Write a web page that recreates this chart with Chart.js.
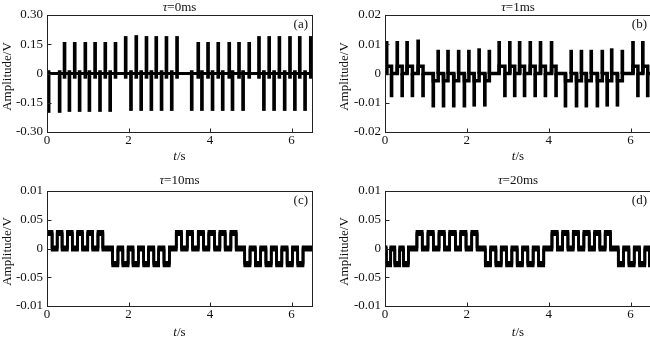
<!DOCTYPE html>
<html>
<head>
<meta charset="utf-8">
<title>Amplitude vs time</title>
<script src="https://cdn.jsdelivr.net/npm/chart.js@4.4.0/dist/chart.umd.min.js"></script>
<style>
    html, body { margin: 0; padding: 0; background: #fff; }
    #wrap { position: relative; width: 650px; height: 340px; overflow: hidden; }
    canvas { position: absolute; }
</style>
</head>
<body>
<div id="wrap">
    <canvas id="chartA" width="325" height="170" style="left:0;top:0"></canvas>
    <canvas id="chartB" width="330" height="170" style="left:325px;top:0"></canvas>
    <canvas id="chartC" width="325" height="170" style="left:0;top:170px"></canvas>
    <canvas id="chartD" width="330" height="170" style="left:325px;top:170px"></canvas>
</div>
<script>
// ---- shared axes ----
const xTicks = [0, 2, 4, 6];

const aYTicks = [-0.3, -0.15, 0, 0.15, 0.3];
const aYLabels = ['-0.30', '-0.15', '0', '0.15', '0.30'];
const bYTicks = [-0.02, -0.01, 0, 0.01, 0.02];
const bYLabels = ['-0.02', '-0.01', '0', '0.01', '0.02'];
const cdYTicks = [-0.1, -0.05, 0, 0.05, 0.1];
const cdYLabels = ['-0.01', '-0.05', '0', '0.05', '0.01'];

// ---- (a) tau = 0ms : spikes on a flat baseline ----
const aBaseT = [0, 6.5];
const aBaseV = [0, 0];
const aUpT = [0.43, 0.68, 0.94, 1.18, 1.43, 1.68, 1.93, 2.19, 2.44, 2.68, 2.93, 3.19,
              3.71, 3.95, 4.20, 4.47, 4.71, 4.96, 5.20, 5.45, 5.70, 5.96, 6.20, 6.47];
const aUpV = [0.16, 0.16, 0.16, 0.16, 0.16, 0.16, 0.19, 0.195, 0.19, 0.19, 0.19, 0.19,
              0.16, 0.16, 0.16, 0.16, 0.16, 0.16, 0.19, 0.19, 0.19, 0.19, 0.19, 0.19];
const aUpTail = -0.025;
const aDownT = [0.04, 0.31, 0.55, 0.80, 1.04, 1.30, 1.55, 2.06, 2.31, 2.56, 2.81, 3.06,
                3.55, 3.80, 4.06, 4.31, 4.55, 4.81, 5.32, 5.57, 5.83, 6.08, 6.33];
const aDownV = [-0.2, -0.2, -0.195, -0.195, -0.195, -0.195, -0.195, -0.19, -0.19, -0.19, -0.19, -0.19,
                -0.19, -0.19, -0.19, -0.19, -0.19, -0.19, -0.19, -0.19, -0.19, -0.19, -0.19];
const aDownTail = 0.015;

// ---- (b) tau = 1ms : stepped baseline with spikes ----
const bUpT = [0.04, 0.30, 0.54, 0.81, 1.30, 1.54, 1.80, 2.05, 2.30, 2.55, 2.79, 3.05,
              3.29, 3.55, 3.80, 4.07, 4.55, 4.80, 5.04, 5.31, 5.54, 5.80, 6.06, 6.30];
const bUpV = [0.011, 0.011, 0.011, 0.0115, 0.008, 0.008, 0.008, 0.008, 0.0085, 0.008, 0.011, 0.011,
              0.011, 0.011, 0.011, 0.011, 0.008, 0.008, 0.008, 0.008, 0.0085, 0.008, 0.011, 0.011];
const bDownT = [0.16, 0.42, 0.67, 0.93, 1.18, 1.43, 1.68, 1.94, 2.18, 2.44, 2.93, 3.17,
                3.41, 3.67, 3.92, 4.18, 4.41, 4.68, 4.92, 5.19, 5.43, 5.68, 6.18, 6.42];
const bDownV = [-0.008, -0.008, -0.008, -0.008, -0.0115, -0.0115, -0.0115, -0.0115, -0.0112, -0.0112, -0.008, -0.008,
                -0.008, -0.008, -0.008, -0.008, -0.0115, -0.0115, -0.0115, -0.0115, -0.0112, -0.0112, -0.008, -0.008];
const bStepT = [0, 0.04, 0.16, 0.30, 0.42, 0.54, 0.67, 0.81, 0.93, 1.18, 1.30, 1.43, 1.54, 1.68, 1.80,
                1.94, 2.05, 2.18, 2.30, 2.44, 2.55, 2.79, 2.93, 3.05, 3.17, 3.29, 3.41, 3.55, 3.67,
                3.80, 3.92, 4.07, 4.18, 4.41, 4.55, 4.68, 4.80, 4.92, 5.04, 5.19, 5.31, 5.43, 5.54,
                5.68, 5.80, 6.06, 6.18, 6.30, 6.42, 6.5];
const bStepV = [0, 0.0025, 0, 0.0025, 0, 0.0025, 0, 0.0025, 0, -0.0025, 0, -0.0025, 0, -0.0025, 0,
                -0.0025, 0, -0.0025, 0, -0.0025, 0, 0.0025, 0, 0.0025, 0, 0.0025, 0, 0.0025, 0,
                0.0025, 0, 0.0025, 0, -0.0025, 0, -0.0025, 0, -0.0025, 0, -0.0025, 0, -0.0025, 0,
                -0.0025, 0, 0.0025, 0, 0.0025, 0, 0];

// ---- (c) tau = 10ms : square pulse groups ----
const cStepT = [0, 0.125, 0.25, 0.37, 0.50, 0.62, 0.75, 0.87, 1.00, 1.12, 1.25, 1.37,
                1.61, 1.74, 1.86, 1.99, 2.11, 2.24, 2.37, 2.49, 2.62, 2.74, 2.87, 3.00,
                3.17, 3.30, 3.44, 3.57, 3.71, 3.84, 3.97, 4.11, 4.24, 4.37, 4.51, 4.64,
                4.85, 4.98, 5.11, 5.24, 5.37, 5.50, 5.63, 5.76, 5.89, 6.02, 6.15, 6.28, 6.5];
const cStepV = [0.027, 0, 0.027, 0, 0.027, 0, 0.027, 0, 0.027, 0, 0.027, 0,
                -0.027, 0, -0.027, 0, -0.027, 0, -0.027, 0, -0.027, 0, -0.027, 0,
                0.027, 0, 0.027, 0, 0.027, 0, 0.027, 0, 0.027, 0, 0.027, 0,
                -0.027, 0, -0.027, 0, -0.027, 0, -0.027, 0, -0.027, 0, -0.027, 0, 0];

// ---- (d) tau = 20ms : same groups, shifted ----
const dStepT = [0, 0.03, 0.14, 0.24, 0.36, 0.45, 0.57,
                0.78, 0.91, 1.05, 1.18, 1.32, 1.45, 1.58, 1.72, 1.85, 1.98, 2.12, 2.25,
                2.45, 2.58, 2.71, 2.84, 2.97, 3.10, 3.23, 3.36, 3.49, 3.62, 3.75, 3.88,
                4.08, 4.21, 4.34, 4.47, 4.60, 4.73, 4.86, 4.99, 5.12, 5.25, 5.38, 5.51,
                5.70, 5.83, 5.96, 6.09, 6.22, 6.35, 6.46, 6.5];
const dStepV = [0, -0.027, 0, -0.027, 0, -0.027, 0,
                0.027, 0, 0.027, 0, 0.027, 0, 0.027, 0, 0.027, 0, 0.027, 0,
                -0.027, 0, -0.027, 0, -0.027, 0, -0.027, 0, -0.027, 0, -0.027, 0,
                0.027, 0, 0.027, 0, 0.027, 0, 0.027, 0, 0.027, 0, 0.027, 0,
                -0.027, 0, -0.027, 0, -0.027, 0, -0.027, -0.027];

const FONT = '"Liberation Serif", "Times New Roman", serif';
const INK = '#111';

function toPoints(ts, vs) {
    return ts.map((t, i) => ({ x: t, y: vs[i] }));
}

function toBars(ts, vs, base) {
    return ts.map((t, i) => ({ x: t, y: [base, vs[i]] }));
}

function lineSet(ts, vs, width, stepped, bandOffsets) {
    return {
        type: 'line',
        data: toPoints(ts, vs),
        borderColor: '#000',
        borderWidth: width,
        pointRadius: 0,
        stepped: stepped,
        borderJoinStyle: 'miter',
        tension: 0,
        bandOffsets: bandOffsets || null
    };
}

function barSet(ts, vs, base, width) {
    return {
        type: 'bar',
        data: toBars(ts, vs, base),
        backgroundColor: '#000',
        borderWidth: 0,
        barThickness: width,
        grouped: false
    };
}

// the recorded traces carry ripple, so the flat parts look thicker than the edges:
// redraw the line shifted up and down a little to thicken only the horizontal runs
const bandThicken = {
    id: 'bandThicken',
    afterDatasetDraw(chart, args) {
        const ds = chart.data.datasets[args.index];
        if (!ds.bandOffsets) return;
        const { ctx, chartArea: a } = chart;
        ctx.save();
        ctx.beginPath();
        ctx.rect(a.left, a.top, a.right - a.left, a.bottom - a.top);
        ctx.clip();
        ds.bandOffsets.forEach(off => {
            ctx.save();
            ctx.translate(0, off);
            args.meta.dataset.draw(ctx, a);
            ctx.restore();
        });
        ctx.restore();
    }
};

// draws mixed italic / upright text centred on cx
function drawMixed(ctx, parts, cx, cy) {
    let total = 0;
    parts.forEach(p => {
        ctx.font = (p[1] ? 'italic ' : '') + '13px ' + FONT;
        total += ctx.measureText(p[0]).width;
    });
    let x = cx - total / 2;
    ctx.textAlign = 'left';
    parts.forEach(p => {
        ctx.font = (p[1] ? 'italic ' : '') + '13px ' + FONT;
        ctx.fillText(p[0], x, cy);
        x += ctx.measureText(p[0]).width;
    });
}

// frame, inward ticks, title, axis labels and panel tag
const panelDecor = {
    id: 'panelDecor',
    afterDraw(chart, args, opts) {
        const { ctx, chartArea: a, scales } = chart;
        const L = Math.floor(a.left) + 0.5;
        const R = Math.floor(a.right) + 0.5;
        const T = Math.floor(a.top) + 0.5;
        const B = Math.floor(a.bottom) + 0.5;
        ctx.save();
        ctx.strokeStyle = '#222';
        ctx.lineWidth = 1;
        ctx.strokeRect(L, T, R - L, B - T);

        ctx.beginPath();
        scales.x.ticks.forEach(t => {
            const px = Math.round(scales.x.getPixelForValue(t.value)) + 0.5;
            ctx.moveTo(px, B);
            ctx.lineTo(px, B - 4);
        });
        scales.y.ticks.forEach(t => {
            const py = Math.round(scales.y.getPixelForValue(t.value)) + 0.5;
            ctx.moveTo(L, py);
            ctx.lineTo(L + 4, py);
        });
        ctx.stroke();

        ctx.fillStyle = INK;
        ctx.textBaseline = 'middle';
        const midX = (a.left + a.right) / 2;
        drawMixed(ctx, [['\u03c4', true], ['=' + opts.tau, false]], midX, opts.titleY);
        drawMixed(ctx, [['t', true], ['/s', false]], midX, opts.xLabelY);

        ctx.font = '13px ' + FONT;
        ctx.textAlign = 'right';
        ctx.fillText(opts.tag, a.right - 4, a.top + 10);

        ctx.save();
        ctx.translate(opts.yLabelX, (a.top + a.bottom) / 2 + 3);
        ctx.rotate(-Math.PI / 2);
        ctx.textAlign = 'center';
        ctx.fillText('Amplitude/V', 0, 0);
        ctx.restore();
        ctx.restore();
    }
};

function makePanel(id, cfg) {
    return new Chart(document.getElementById(id), {
        type: 'bar',
        data: { datasets: cfg.datasets },
        options: {
            responsive: false,
            animation: false,
            events: [],
            layout: { padding: { top: cfg.padTop, right: cfg.padRight, left: 0, bottom: 0 } },
            plugins: {
                legend: { display: false },
                tooltip: { enabled: false },
                panelDecor: cfg.decor
            },
            scales: {
                x: {
                    type: 'linear',
                    min: 0,
                    max: 6.5,
                    offset: false,
                    grid: { display: false, drawTicks: false, drawOnChartArea: false },
                    border: { display: false },
                    afterBuildTicks: s => { s.ticks = xTicks.map(v => ({ value: v })); },
                    afterFit: s => { s.height = cfg.xHeight; },
                    ticks: {
                        font: { family: FONT, size: 13 },
                        color: INK,
                        padding: 1,
                        maxRotation: 0,
                        callback: v => String(v)
                    }
                },
                y: {
                    type: 'linear',
                    min: cfg.yTicks[0],
                    max: cfg.yTicks[cfg.yTicks.length - 1],
                    grid: { display: false, drawTicks: false, drawOnChartArea: false },
                    border: { display: false },
                    afterBuildTicks: s => { s.ticks = cfg.yTicks.map(v => ({ value: v })); },
                    afterFit: s => { s.width = cfg.yWidth; },
                    ticks: {
                        font: { family: FONT, size: 13 },
                        color: INK,
                        padding: 4,
                        callback: (v, i) => cfg.yLabels[i]
                    }
                }
            }
        },
        plugins: [bandThicken, panelDecor]
    });
}

document.addEventListener('DOMContentLoaded', function() {
    // (a) top left
    makePanel('chartA', {
        padTop: 15, padRight: 13, xHeight: 38, yWidth: 47,
        yTicks: aYTicks, yLabels: aYLabels,
        decor: { tau: '0ms', tag: '(a)', titleY: 7.5, xLabelY: 157, yLabelX: 7.5 },
        datasets: [
            lineSet(aBaseT, aBaseV, 3, false),
            barSet(aUpT, aUpV, aUpTail, 3),
            barSet(aDownT, aDownV, aDownTail, 3)
        ]
    });

    // (b) top right
    makePanel('chartB', {
        padTop: 15, padRight: 4, xHeight: 38, yWidth: 60,
        yTicks: bYTicks, yLabels: bYLabels,
        decor: { tau: '1ms', tag: '(b)', titleY: 7.5, xLabelY: 157, yLabelX: 20 },
        datasets: [
            lineSet(bStepT, bStepV, 3.5, true),
            barSet(bUpT, bUpV, 0, 3),
            barSet(bDownT, bDownV, 0, 3)
        ]
    });

    // (c) bottom left
    makePanel('chartC', {
        padTop: 21, padRight: 13, xHeight: 34, yWidth: 47,
        yTicks: cdYTicks, yLabels: cdYLabels,
        decor: { tau: '10ms', tag: '(c)', titleY: 11, xLabelY: 163, yLabelX: 7.5 },
        datasets: [lineSet(cStepT, cStepV, 2.6, true, [-1.8, 1.8])]
    });

    // (d) bottom right
    makePanel('chartD', {
        padTop: 21, padRight: 4, xHeight: 34, yWidth: 60,
        yTicks: cdYTicks, yLabels: cdYLabels,
        decor: { tau: '20ms', tag: '(d)', titleY: 11, xLabelY: 163, yLabelX: 20 },
        datasets: [lineSet(dStepT, dStepV, 2.6, true, [-1.8, 1.8])]
    });
});
</script>
</body>
</html>
